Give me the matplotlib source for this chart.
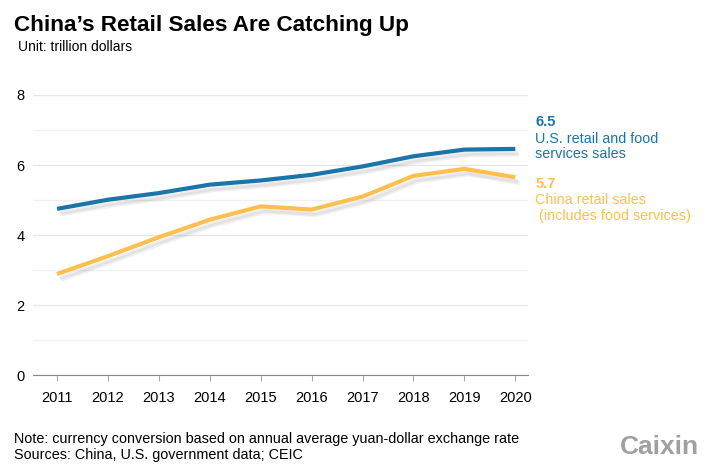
import matplotlib.pyplot as plt
import matplotlib.patheffects as pe

plt.rcParams['font.family'] = ['Liberation Sans', 'DejaVu Sans']

years = [2011, 2012, 2013, 2014, 2015, 2016, 2017, 2018, 2019, 2020]
us_sales = [4.75, 5.01, 5.20, 5.44, 5.56, 5.72, 5.96, 6.25, 6.44, 6.46]
china_sales = [2.89, 3.40, 3.94, 4.44, 4.82, 4.73, 5.10, 5.69, 5.89, 5.65]

BLUE = '#1b75a8'
ORANGE = '#fdbf4f'

fig = plt.figure(figsize=(7.05, 4.7), dpi=100)
ax = fig.add_axes([0.047, 0.2015, 0.702, 0.5965])

# soft drop shadow under the lines
shadow = [pe.SimpleLineShadow(offset=(3, -4), shadow_color='#777777', alpha=0.10),
          pe.SimpleLineShadow(offset=(2, -3), shadow_color='#777777', alpha=0.12),
          pe.Normal()]
ax.plot(years, us_sales, color=BLUE, lw=3, solid_capstyle='butt', path_effects=shadow, zorder=3)
ax.plot(years, china_sales, color=ORANGE, lw=3, solid_capstyle='butt', path_effects=shadow, zorder=3)

ax.set_xlim(2010.53, 2020.25)
ax.set_ylim(0, 8)
ax.set_yticks([0, 2, 4, 6, 8])
ax.set_yticks([1, 3, 5, 7], minor=True)
ax.set_xticks(years)
ax.grid(axis='y', which='major', color='#e6e6e6', lw=1)
ax.grid(axis='y', which='minor', color='#f0f0f0', lw=1)
ax.set_axisbelow(True)
for s in ['top', 'right', 'left']:
    ax.spines[s].set_visible(False)
ax.spines['bottom'].set_color('#888888')
ax.tick_params(axis='y', which='both', length=0, labelsize=10.5, pad=6)
ax.tick_params(axis='x', length=4, color='#aaaaaa', labelsize=10.5, pad=7)

# titles
fig.text(0.020, 0.945, "China\u2019s Retail Sales Are Catching Up", fontsize=16.2,
         fontweight='bold', va='center')
fig.text(0.025, 0.900, "Unit: trillion dollars", fontsize=10, va='center')

# labels at line ends
fig.text(0.759, 0.740, "6.5", color=BLUE, fontsize=10.5, fontweight='bold', va='center')
fig.text(0.759, 0.688, "U.S. retail and food\nservices sales", color=BLUE, fontsize=10.4,
         va='center', linespacing=1.15)
fig.text(0.759, 0.608, "5.7", color=ORANGE, fontsize=10.5, fontweight='bold', va='center')
fig.text(0.759, 0.557, "China retail sales\n (includes food services)", color=ORANGE,
         fontsize=10.4, va='center', linespacing=1.15)

# notes
fig.text(0.020, 0.066, "Note: currency conversion based on annual average yuan-dollar exchange rate",
         fontsize=10.4, va='center')
fig.text(0.020, 0.032, "Sources: China, U.S. government data; CEIC", fontsize=10.4, va='center')
fig.text(0.992, 0.050, "Caixin", fontsize=19, fontweight='bold', color='#a0a0a0',
         ha='right', va='center')

fig.savefig('out.png', dpi=100)
